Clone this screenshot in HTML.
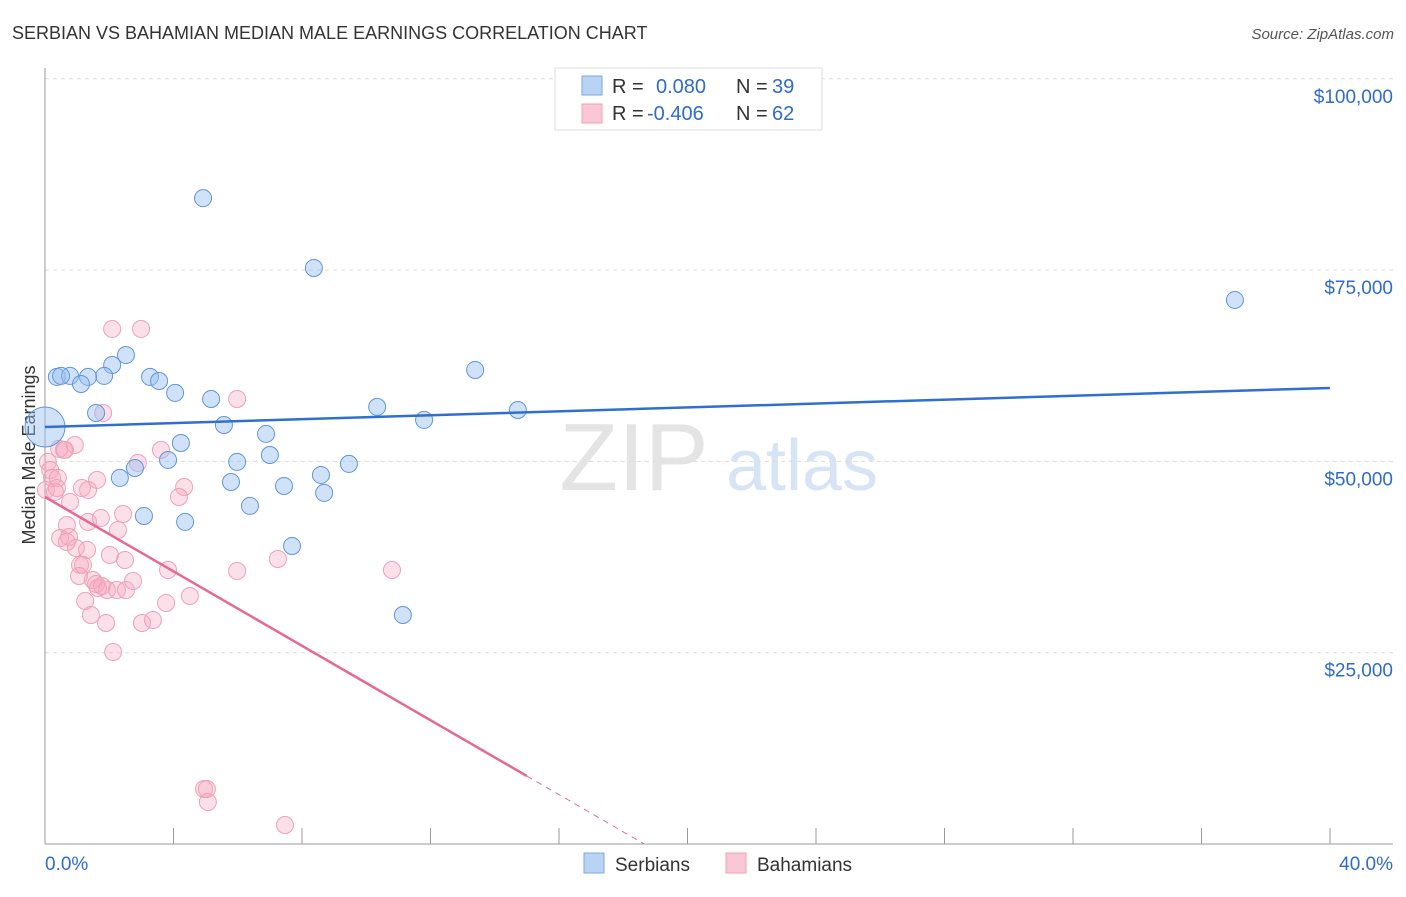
<!DOCTYPE html>
<html><head><meta charset="utf-8"><style>
body{margin:0;background:#fff;font-family:"Liberation Sans",sans-serif;}
svg text{font-family:"Liberation Sans",sans-serif;}
</style></head><body>
<svg id="c" width="1406" height="892">
<text x="12" y="39" font-size="18" fill="#333">SERBIAN VS BAHAMIAN MEDIAN MALE EARNINGS CORRELATION CHART</text>
<text x="1394" y="39" font-size="15" fill="#555" text-anchor="end" font-style="italic">Source: ZipAtlas.com</text>
<text x="634" y="490" font-size="96" fill="#e4e4e4" font-family="Liberation Serif" text-anchor="middle">ZIP</text>
<text x="802" y="490" font-size="72" fill="#d6e4f5" text-anchor="middle">atlas</text>
<text transform="translate(35,455) rotate(-90)" font-size="18" fill="#333" text-anchor="middle">Median Male Earnings</text>
<g id="grid"></g><g id="pts"></g><g id="lines"></g>
<g>
<rect x="555" y="68" width="267" height="62" fill="#fff" stroke="#ddd"/>
<rect x="582" y="76" width="20" height="19" fill="#b9d3f5" stroke="#7aa8e0"/>
<rect x="582" y="104" width="20" height="19" fill="#f9c7d6" stroke="#eea0b8"/>
<text x="612" y="93" font-size="20" fill="#333">R = </text><text x="656" y="93" font-size="20" fill="#2f6cc9">0.080</text>
<text x="736" y="93" font-size="20" fill="#333">N = </text><text x="772" y="93" font-size="20" fill="#2f6cc9">39</text>
<text x="612" y="120" font-size="20" fill="#333">R = </text><text x="647" y="120" font-size="20" fill="#2f6cc9">-0.406</text>
<text x="736" y="120" font-size="20" fill="#333">N = </text><text x="772" y="120" font-size="20" fill="#2f6cc9">62</text>
</g>
<g>
<rect x="584" y="853" width="20" height="20" fill="#b9d3f5" stroke="#7aa8e0"/>
<text x="615" y="871" font-size="19" fill="#333">Serbians</text>
<rect x="726" y="853" width="20" height="20" fill="#f9c7d6" stroke="#eea0b8"/>
<text x="757" y="871" font-size="19" fill="#333">Bahamians</text>
</g>
</svg>
<script>
const yTicks=[25000,50000,75000,100000];
const yTickLabels=["$25,000","$50,000","$75,000","$100,000"];
const xTicks=[0,4,8,12,16,20,24,28,32,36,40];
const serbX=[4.92,8.37,37.04,13.39,2.52,2.09,1.84,0.37,0.78,1.34,1.12,3.27,3.55,4.05,1.59,5.17,10.34,14.72,11.8,5.57,6.88,4.23,7.0,3.83,5.98,9.46,8.59,2.33,2.8,5.79,7.44,8.69,6.38,3.08,4.36,7.69,11.14,0.5];
const serbY=[84400,75280,71100,61950,63900,62600,61170,61040,61170,61040,60120,61040,60510,58950,56330,58160,57120,56720,55420,54760,53590,52410,50840,50190,49930,49670,48230,47840,49140,47310,46790,45880,44180,42870,42090,38950,29930,61170];
const bigX=[0], bigY=[54500];
const bahX=[2.09,2.99,1.81,5.98,0.93,0.59,0.44,3.61,2.89,0.09,0.16,0.22,0.40,1.62,0.03,0.31,0.37,1.15,1.34,4.33,4.17,0.78,1.34,1.74,2.43,0.68,2.27,0.75,0.47,0.96,1.31,2.02,2.49,3.83,5.98,7.25,10.80,1.09,1.18,1.06,1.49,1.59,1.65,1.93,2.24,2.52,2.74,4.51,3.77,1.25,1.43,1.90,3.02,3.36,2.12,4.95,5.04,5.07,7.47,0.62,0.68,1.77];
const bahY=[67310,67310,56330,58160,52150,51500,51630,51500,49800,49930,48880,47840,47840,47580,46270,46010,46530,46530,46270,46660,45350,44700,42090,42610,43130,41690,41040,40120,39990,38690,38430,37770,37120,35810,35680,37250,35810,36470,36470,35030,34500,33980,33460,33200,33200,33200,34370,32410,31500,31760,29930,28880,28880,29280,25090,7190,7190,5490,2480,51500,39470,33720];
const blueLine=[54500,59600];
const pinkStart=45350, pinkSlope=-2431, pinkSolidEnd=15;
const X=v=>45+v/40*1285, Y=v=>844-v/25000*191.3;
const NS="http://www.w3.org/2000/svg";
function mk(t,a,p){const e=document.createElementNS(NS,t);for(const k in a)e.setAttribute(k,a[k]);p.appendChild(e);return e;}
const g=document.getElementById('grid');
yTicks.forEach((v,i)=>{
 const l=mk('line',{x1:45,x2:1393,y1:Y(v),y2:Y(v),stroke:'#ddd','stroke-dasharray':'4,4'},g);
 
 
 const t=mk('text',{x:1393,y:Y(v)+24,'font-size':19,fill:'#2f6cc9','text-anchor':'end'},g);
 t.textContent=yTickLabels[i];
 
 
});
const ax=mk('line',{x1:45,x2:45,y1:68,y2:844,stroke:'#999'},g);


const bx=mk('line',{x1:45,x2:1393,y1:844,y2:844,stroke:'#999'},g);


xTicks.forEach(v=>{const l=mk('line',{x1:X(v),x2:X(v),y1:828,y2:844,stroke:'#999'},g);
 
 });
[[0,'0.0%','start',45],[40,'40.0%','end',1393]].forEach(a=>{const t=mk('text',{x:a[3],y:870,'font-size':19,fill:'#2f6cc9','text-anchor':a[2]},g);t.textContent=a[1];
 
 });
const p=document.getElementById('pts');
bahX.forEach((x,i)=>{const c=mk('circle',{cx:X(x),cy:Y(bahY[i]),r:8.5,fill:'rgba(245,165,192,0.35)',stroke:'#eea0b8','stroke-width':1},p);
 
 });
serbX.forEach((x,i)=>{const c=mk('circle',{cx:X(x),cy:Y(serbY[i]),r:8.5,fill:'rgba(150,190,240,0.45)',stroke:'#5f95dc','stroke-width':1},p);
 
 });
bigX.forEach((x,i)=>{const c=mk('circle',{cx:X(x),cy:Y(bigY[i]),r:20,fill:'rgba(150,190,240,0.45)',stroke:'#5f95dc','stroke-width':1},p);
 
 });
const L=document.getElementById('lines');
const bl=mk('line',{x1:X(0),y1:Y(blueLine[0]),x2:X(40),y2:Y(blueLine[1]),stroke:'#2f6fd0','stroke-width':2.5},L);


const zero=-pinkStart/pinkSlope;
const pl=mk('line',{x1:X(0),y1:Y(pinkStart),x2:X(pinkSolidEnd),y2:Y(pinkStart+pinkSlope*pinkSolidEnd),stroke:'#e46a94','stroke-width':2.5},L);


const pd=mk('line',{x1:X(pinkSolidEnd),y1:Y(pinkStart+pinkSlope*pinkSolidEnd),x2:X(zero),y2:Y(0),stroke:'#e46a94','stroke-width':1,'stroke-dasharray':'6,5'},L);


</script>
</body></html>
